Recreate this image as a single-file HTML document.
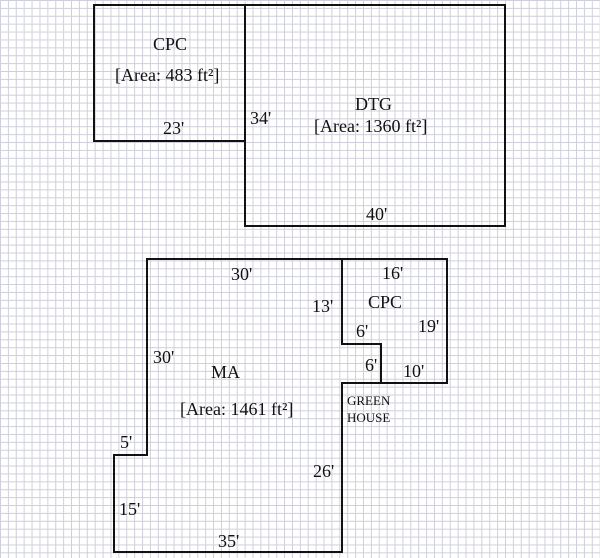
<!DOCTYPE html>
<html><head><meta charset="utf-8"><style>
html,body{margin:0;padding:0;}
body{width:600px;height:558px;overflow:hidden;background:#fff;
background-image:linear-gradient(to right,#cfcfdc 1px,transparent 1px),linear-gradient(to bottom,#cfcfdc 1px,transparent 1px);
background-size:7.9px 7.9px;}
svg{position:absolute;left:0;top:0;}
text{font-family:"Liberation Serif",serif;font-size:18px;fill:#111;}
</style></head><body>
<svg width="600" height="558" viewBox="0 0 600 558">
<g fill="none" stroke="#111" stroke-width="2">
<rect x="94" y="5" width="151" height="136"/>
<rect x="245" y="5" width="260" height="221"/>
<polygon points="147,259 447,259 447,383 342,383 342,552 114,552 114,455 147,455"/>
<polyline points="342,259 342,344 381,344 381,383"/>
</g>
<text x="153" y="50">CPC</text>
<text x="115" y="81">[Area: 483 ft²]</text>
<text x="163" y="134">23'</text>
<text x="250" y="124">34'</text>
<text x="355" y="110">DTG</text>
<text x="314" y="132">[Area: 1360 ft²]</text>
<text x="366" y="220">40'</text>
<text x="231" y="280">30'</text>
<text x="382" y="279">16'</text>
<text x="312" y="312">13'</text>
<text x="368" y="308">CPC</text>
<text x="418" y="332">19'</text>
<text x="356" y="337">6'</text>
<text x="365" y="371">6'</text>
<text x="403" y="377">10'</text>
<text x="153" y="363">30'</text>
<text x="211" y="378">MA</text>
<text x="180" y="415">[Area: 1461 ft²]</text>
<text x="347" y="405" style="font-size:13px">GREEN</text>
<text x="347" y="422" style="font-size:13px">HOUSE</text>
<text x="120" y="448">5'</text>
<text x="313" y="477">26'</text>
<text x="119" y="515">15'</text>
<text x="218" y="547">35'</text>
</svg>
</body></html>
